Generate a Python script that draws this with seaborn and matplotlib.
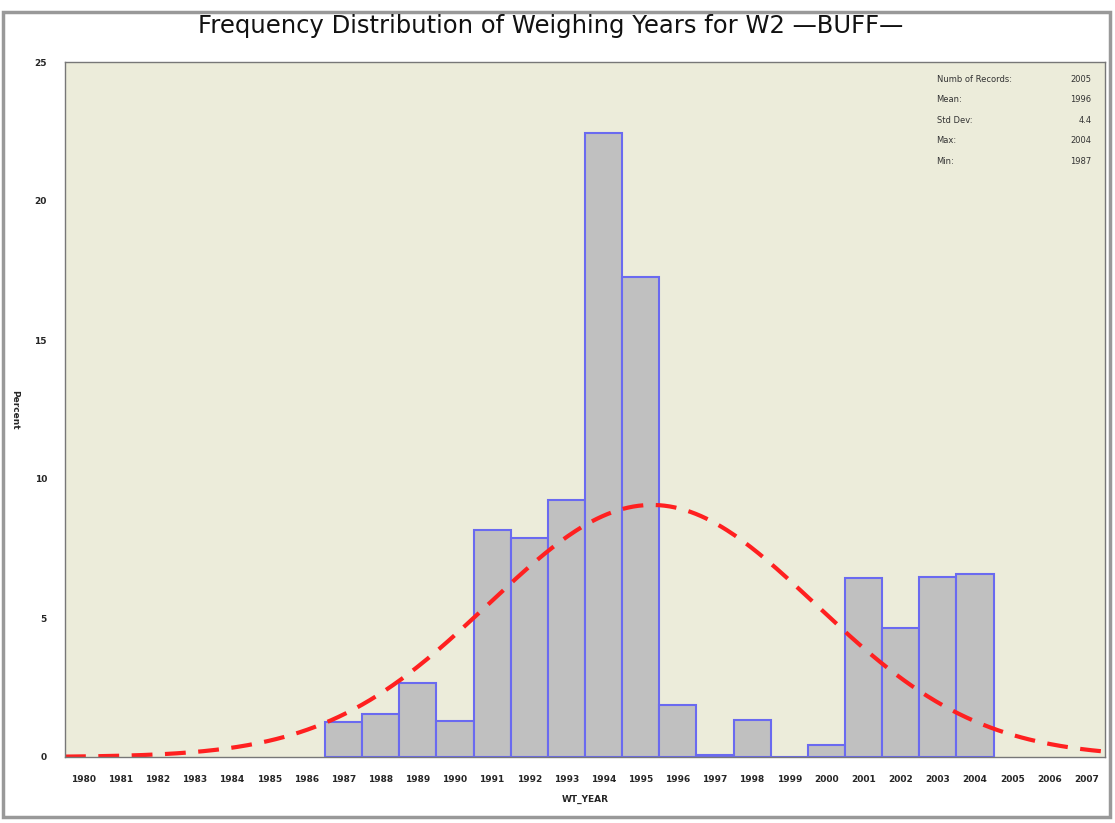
import numpy as np
import pandas as pd
import matplotlib
matplotlib.use("Agg")
import matplotlib.pyplot as plt
import seaborn as sns
from matplotlib.patches import Rectangle

years = [1987, 1988, 1989, 1990, 1991, 1992, 1993, 1994, 1995, 1996, 1997, 1998, 1999, 2000, 2001, 2002, 2003, 2004]
percent = [1.26, 1.55, 2.66, 1.30, 8.17, 7.88, 9.24, 22.45, 17.25, 1.87, 0.07, 1.33, 0.0, 0.43, 6.44, 4.64, 6.47, 6.58]
tick_years = list(range(1980, 2008))
yticks = [0, 5, 10, 15, 20, 25]
stat_labels = ["Numb of Records:", "Mean:", "Std Dev:", "Max:", "Min:"]
stat_values = ["2005", "1996", "4.4", "2004", "1987"]
fit_mean = 1995.3
fit_sd = 4.4

sns.set_style("white")
fig = plt.figure(figsize=(11.15, 8.23), dpi=100)
ax = fig.add_axes([65/1115, 66/823, 1040/1115, 695/823])
ax.set_facecolor("#ECECDA")

df = pd.DataFrame({"year": years, "pct": percent})
sns.histplot(data=df, x="year", weights="pct", discrete=True, stat="count",
             color="#C0C0C0", edgecolor="#6A6AF0", linewidth=1.5, alpha=1.0, ax=ax)

xs = np.linspace(1979.5, 2007.5, 400)
ys = 100.0 / (fit_sd * np.sqrt(2 * np.pi)) * np.exp(-0.5 * ((xs - fit_mean) / fit_sd) ** 2)
sns.lineplot(x=xs, y=ys, color="#FF2020", linewidth=3, ax=ax)
ax.lines[-1].set_dashes([5, 3])

ax.set_xlim(1979.5, 2007.5)
ax.set_ylim(0, 25)
ax.set_xticks(tick_years)
ax.set_xticklabels([str(y) for y in tick_years], fontsize=6.5, fontweight="bold")
ax.set_yticks(yticks)
ax.set_yticklabels([str(v) for v in yticks], fontsize=6.5, fontweight="bold")
ax.tick_params(axis="both", direction="out", length=5, width=0.8, color="#444444", pad=8)
for s in ax.spines.values():
    s.set_color("#777777")
    s.set_linewidth(1)
ax.set_xlabel("WT_YEAR", fontsize=6.5, fontweight="bold", labelpad=8)
ax.set_ylabel("Percent", fontsize=6.5, fontweight="bold", rotation=270, labelpad=14, va="center")

for i, (lab, val) in enumerate(zip(stat_labels, stat_values)):
    yy = 0.975 - i * 0.0295
    ax.text(0.838, yy, lab, transform=ax.transAxes, fontsize=6, ha="left", va="center", color="#333333")
    ax.text(0.987, yy, val, transform=ax.transAxes, fontsize=6, ha="right", va="center", color="#333333")

fig.text(0.494, 0.968, "Frequency Distribution of Weighing Years for W2 \u2014BUFF\u2014",
         fontsize=17.5, ha="center", va="center", color="#111111")

fig.patches.append(Rectangle((3/1115, 6/823), 1107/1115, 805/823, transform=fig.transFigure,
                             fill=False, edgecolor="#999999", linewidth=2.5))

fig.savefig("out.png", dpi=100)
